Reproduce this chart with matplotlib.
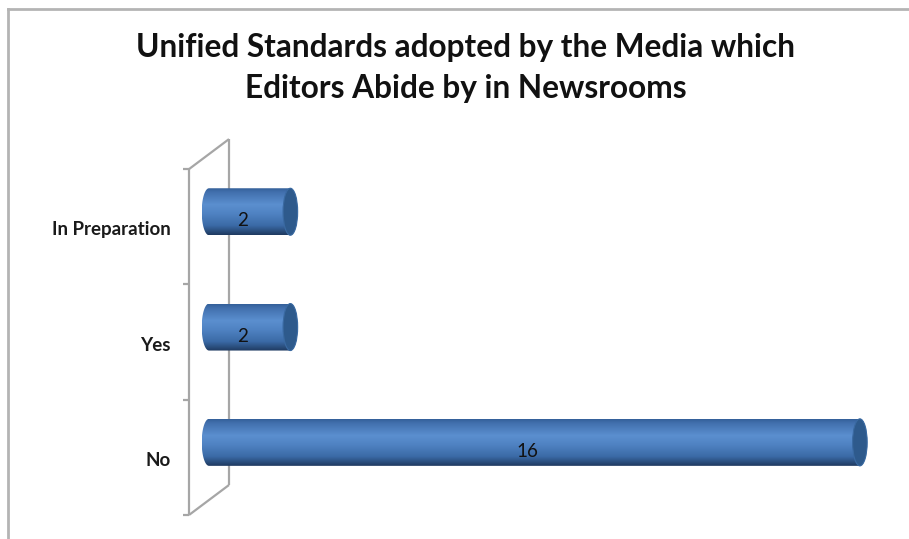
import numpy as np
import matplotlib.pyplot as plt
from matplotlib.colors import LinearSegmentedColormap
from matplotlib.path import Path
from matplotlib.patches import PathPatch, Ellipse
from matplotlib.lines import Line2D

plt.rcParams['font.family'] = ['Lato', 'DejaVu Sans']

# Chart data
categories = ['No', 'Yes', 'In Preparation']
values = [16, 2, 2]
title = 'Unified Standards adopted by the Media which\nEditors Abide by in Newsrooms'

W, H = 909, 539
fig = plt.figure(figsize=(W / 100, H / 100), dpi=100)
ax = fig.add_axes([0, 0, 1, 1])
ax.axis('off')

# Layout of the 3-D plot area in pixels
x0_px, y0_px = 189, 515        # front-plane origin (value 0, bottom of "No")
px_per_unit = 40.68
px_per_cat = 115.3
depth_px = (40, 30)

ax.set_xlim(-x0_px / px_per_unit, (W - x0_px) / px_per_unit)
ax.set_ylim(-0.5 - (H - y0_px) / px_per_cat, -0.5 + y0_px / px_per_cat)
dx, dy = depth_px[0] / px_per_unit, depth_px[1] / px_per_cat

# Side wall of the category axis
wall = dict(color='#a6a6a6', lw=1.6, solid_capstyle='butt')
n = len(categories)
ybot, ytop = -0.5, n - 0.5
ax.plot([0, 0], [ybot, ytop], **wall)
ax.plot([dx, dx], [ybot + dy, ytop + dy], **wall)
ax.plot([0, dx], [ytop, ytop + dy], **wall)
ax.plot([0, dx], [ybot, ybot + dy], **wall)
for yb in np.arange(ybot, ytop + 0.01, 1.0):
    ax.plot([-6 / px_per_unit, 0], [yb, yb], **wall)

# Category labels
for i, cat in enumerate(categories):
    ax.text(-18 / px_per_unit, i - 3 / px_per_cat, cat, ha='right', va='center',
            fontsize=13.5, fontweight='bold', color='#1a1a1a')

# Cylinder shading
body_cmap = LinearSegmentedColormap.from_list('body', [
    (0.0, '#34609a'), (0.08, '#416fad'), (0.35, '#5b8fcf'),
    (0.55, '#4f82c2'), (0.8, '#3b6aa6'), (1.0, '#1e3a60')])
grad = np.linspace(0, 1, 200).reshape(-1, 1)

half_h = 23.5 / px_per_cat
a = 7.3 / px_per_unit
t_right = np.linspace(np.pi / 2, -np.pi / 2, 40)
t_left = np.linspace(-np.pi / 2, -3 * np.pi / 2, 40)

for i, v in enumerate(values):
    xs, xe = dx / 2, v + dx / 2
    yc = i + dy / 2
    right = np.column_stack([xe + a * np.cos(t_right), yc + half_h * np.sin(t_right)])
    left = np.column_stack([xs + a * np.cos(t_left), yc + half_h * np.sin(t_left)])
    verts = np.vstack([right, left, right[:1]])
    codes = [Path.MOVETO] + [Path.LINETO] * (len(verts) - 2) + [Path.CLOSEPOLY]
    body = PathPatch(Path(verts, codes), facecolor='none', edgecolor='none')
    ax.add_patch(body)
    im = ax.imshow(grad, cmap=body_cmap, aspect='auto', interpolation='bilinear',
                   extent=[xs - a, xe + a, yc - half_h, yc + half_h], zorder=2)
    im.set_clip_path(body)
    ax.add_patch(Ellipse((xe, yc), 2 * a, 2 * half_h, facecolor='#2e5a8c',
                         edgecolor='#3a6aa2', lw=0.8, zorder=3))
    ax.text(xs + v / 2 - 7 / px_per_unit, yc - 9 / px_per_cat, str(v),
            ha='center', va='center', fontsize=13.5, color='#111111', zorder=4)

ax.set_xlim(-x0_px / px_per_unit, (W - x0_px) / px_per_unit)
ax.set_ylim(-0.5 - (H - y0_px) / px_per_cat, -0.5 + y0_px / px_per_cat)

fig.text(466 / W, 1 - 68 / H, title, ha='center', va='center',
         fontsize=22.8, fontweight='bold', color='#111111', linespacing=1.5)

# Chart border (top and left edges)
border = dict(color='#b4b4b4', lw=2, transform=fig.transFigure)
fig.add_artist(Line2D([8 / W, 1], [1 - 9 / H, 1 - 9 / H], **border))
fig.add_artist(Line2D([8 / W, 8 / W], [0, 1 - 9 / H], **border))

fig.savefig('out.png', dpi=100)
